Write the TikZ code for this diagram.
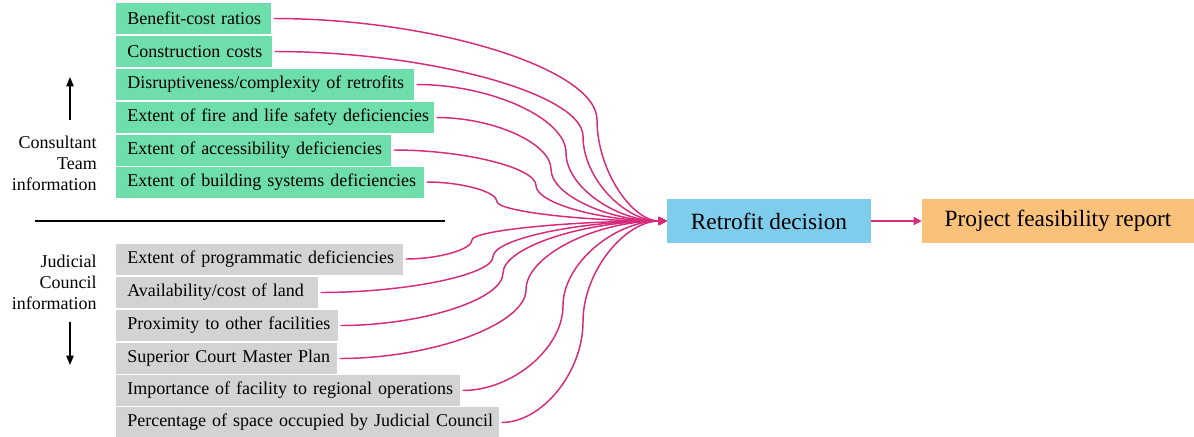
\documentclass[tikz,border=0pt]{standalone}
\usepackage{fontspec}
\setmainfont{Liberation Serif}
\usetikzlibrary{arrows.meta,calc}
\definecolor{cgreen}{RGB}{110,222,170}
\definecolor{cgrey}{RGB}{211,211,211}
\definecolor{cblue}{RGB}{126,205,236}
\definecolor{corange}{RGB}{250,193,122}
\definecolor{cpink}{RGB}{214,42,122}
\newcommand\cconn[2]{\draw[conn] let \p1=([xshift=1.5pt]#1.east), \p2=(rd.west), \p3=(#2,0) in (\p1) .. controls ({(\x1+\x3)/2},\y1) and (\x3,{\y1+(\y2-\y1)/4}) .. (\x3,{(\y1+\y2)/2}) .. controls (\x3,{\y1+3*(\y2-\y1)/4}) and ({(\x3+\x2)/2},\y2) .. (\p2);}
\begin{document}
\begin{tikzpicture}[x=0.75pt,y=-0.75pt,
 box/.style={anchor=west, inner xsep=8.25pt, inner ysep=0pt, minimum height=23.25pt, align=left, font=\fontsize{13.5}{16}\selectfont},
 gbox/.style={box, fill=cgreen, text width=#1},
 ybox/.style={box, fill=cgrey, text width=#1},
 conn/.style={draw=cpink, line width=1.1pt, -{Triangle[length=6pt,width=6pt]}},
 side/.style={align=right, anchor=east, inner sep=0pt, font=\fontsize{13.5}{15.75}\selectfont},
 bigbox/.style={minimum height=33pt, inner sep=0pt, font=\fontsize{17.5}{20}\selectfont},
 blk/.style={draw=black, line width=1pt, -{Triangle[length=7pt,width=5.5pt]}},
]
\useasboundingbox (0,0) rectangle (1194,436);
% green boxes
\node[gbox=99.75pt] (b1) at (116,18.5) {\mbox{Benefit-cost ratios}};
\node[gbox=100.5pt] (b2) at (116,51.5) {\mbox{Construction costs}};
\node[gbox=207pt] (b3) at (116,84.5) {\mbox{Disruptiveness/complexity of retrofits}};
\node[gbox=222pt] (b4) at (116,117.5) {\mbox{Extent of fire and life safety deficiencies}};
\node[gbox=189.75pt] (b5) at (116,150) {\mbox{Extent of accessibility deficiencies}};
\node[gbox=214.5pt] (b6) at (116,182) {\mbox{Extent of building systems deficiencies}};
% grey boxes
\node[ybox=198.75pt] (g7) at (116,259) {\mbox{Extent of programmatic deficiencies}};
\node[ybox=135pt] (g8) at (116,292.5) {\mbox{Availability/cost of land}};
\node[ybox=150pt] (g9) at (116,325.5) {\mbox{Proximity to other facilities}};
\node[ybox=149.25pt] (g10) at (116,358.5) {\mbox{Superior Court Master Plan}};
\node[ybox=241.5pt] (g11) at (116,390.5) {\mbox{Importance of facility to regional operations}};
\node[ybox=270.75pt] (g12) at (116,422.5) {\mbox{Percentage of space occupied by Judicial Council}};
% main boxes
\node[bigbox, fill=cblue, minimum width=153pt] (rd) at (769,221) {Retrofit decision};
\node[bigbox, fill=corange, minimum width=204pt] (pf) at (1058,221) {Project feasibility report};
% side labels
\node[side] (ct) at (97,163) {Consultant\\Team\\information};
\node[side] (jc) at (97,282) {Judicial\\Council\\information};
\coordinate (u1) at (70,120); \coordinate (u2) at (70,77);
\coordinate (d1) at (70,322); \coordinate (d2) at (70,365);
\draw[blk] (u1) -- (u2);
\draw[blk] (d1) -- (d2);
\coordinate (s1) at (35,221); \coordinate (s2) at (445,221);
\draw[black, line width=1pt] (s1) -- (s2);
% connectors
\cconn{b1}{597}
\cconn{b2}{583}
\cconn{b3}{566}
\cconn{b4}{551}
\cconn{b5}{536}
\cconn{b6}{497}
\cconn{g7}{472}
\cconn{g8}{493}
\cconn{g9}{503}
\cconn{g10}{526}
\cconn{g11}{563}
\cconn{g12}{583}
\draw[conn] (rd) -- (pf);
\end{tikzpicture}
\end{document}
